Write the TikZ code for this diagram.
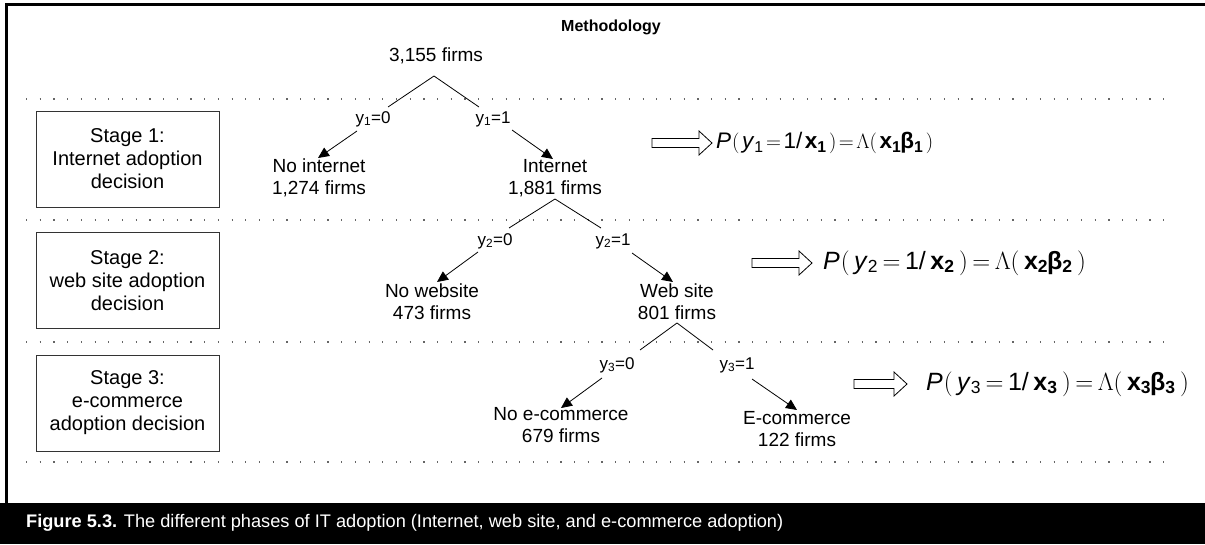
\documentclass[tikz,border=0pt]{standalone}
\usepackage{fontspec}
\setmainfont{Liberation Sans}
\usetikzlibrary{arrows.meta}

% logit probability for stage #1, with #2 as the spacing unit
\newcommand{\stageprob}[2]{\textit{P}\kern1pt$\Bigl($\kern#2\textit{y}\textsubscript{#1}\kern#2$=$\kern#2 1/\kern#2\textbf{x}\textsubscript{\bfseries #1}\kern#2$\Bigr)$\kern#2$=$\kern#2$\Lambda\Bigl($\kern#2\textbf{x}\textsubscript{\bfseries #1}\kern-1pt\textbf{β}\textsubscript{\bfseries #1}\kern#2$\Bigr)$}

\begin{document}
\begin{tikzpicture}[x=1pt,y=-1pt,
  treetext/.style={align=center,inner sep=0pt,font=\fontsize{19}{22}\selectfont},
  branchlabel/.style={inner sep=0pt,font=\fontsize{17}{19}\selectfont},
  stagebox/.style={draw=black!80,line width=0.9pt,minimum width=183pt,minimum height=96pt,
    align=center,inner sep=0pt,font=\fontsize{20}{23}\selectfont},
  sep/.style={line width=1.2pt,black!60,dash pattern=on 1.2pt off 12.5pt},
  branch/.style={line width=0.8pt},
  pick/.style={line width=0.8pt,-{Triangle[length=11pt,width=10pt]}},
  formula/.style={anchor=west,inner sep=0pt},
  hollow/.style={draw=black,line width=0.8pt,fill=white}]
\useasboundingbox (0,0) rectangle (1205,544);

% frame and caption bar
\fill[black] (0,503) rectangle (1205,544);
\draw[line width=3pt] (6.5,503) -- (6.5,4.5) -- (1205,4.5);
\node[anchor=base west,inner sep=0pt,text=white,font=\fontsize{18.2}{21}\selectfont]
  (caption) at (26,527) {\textbf{Figure 5.3.} The different phases of IT adoption (Internet, web site, and e-commerce adoption)};

% title
\node[inner sep=0pt,font=\bfseries\fontsize{16}{19}\selectfont] (title) at (611,27) {Methodology};

% stage separators
\foreach \yy in {99,220,342,462}
  \draw[sep] (26,\yy) -- (1166,\yy);

% stage boxes
\node[stagebox] (s1) at (127.5,159) {Stage 1:\\Internet adoption\\decision};
\node[stagebox] (s2) at (127.5,280.5) {Stage 2:\\web site adoption\\decision};
\node[stagebox] (s3) at (127.5,403) {Stage 3:\\e-commerce\\adoption decision};

% stage 1 tree
\node[treetext] (all) at (436,56) {3,155 firms};
\coordinate (a1) at (434,76);
\coordinate (a1l) at (388,107);
\coordinate (a1r) at (479,107);
\node[branchlabel] (y1n) at (373,119) {y\textsubscript{1}=0};
\node[branchlabel] (y1y) at (493,119) {y\textsubscript{1}=1};
\coordinate (p1l) at (357,131);
\coordinate (p1r) at (512,130);
\coordinate (t1l) at (318,158);
\coordinate (t1r) at (553,159);
\node[treetext] (noint) at (319,178) {No internet\\1,274 firms};
\node[treetext] (int) at (555,178) {Internet\\1,881 firms};
\draw[branch] (a1l) -- (a1) -- (a1r);
\draw[pick] (p1l) -- (t1l);
\draw[pick] (p1r) -- (t1r);

% stage 2 tree
\coordinate (a2) at (555,199);
\coordinate (a2l) at (509,228);
\coordinate (a2r) at (601,228);
\node[branchlabel] (y2n) at (495,241) {y\textsubscript{2}=0};
\node[branchlabel] (y2y) at (613,241) {y\textsubscript{2}=1};
\coordinate (p2l) at (478,252);
\coordinate (p2r) at (632,253);
\coordinate (t2l) at (437,282);
\coordinate (t2r) at (673,282);
\node[treetext] (noweb) at (432,302) {No website\\473 firms};
\node[treetext] (web) at (677,302) {Web site\\801 firms};
\draw[branch] (a2l) -- (a2) -- (a2r);
\draw[pick] (p2l) -- (t2l);
\draw[pick] (p2r) -- (t2r);

% stage 3 tree
\coordinate (a3) at (677,323);
\coordinate (a3l) at (640,350);
\coordinate (a3r) at (713,350);
\node[branchlabel] (y3n) at (617,365) {y\textsubscript{3}=0};
\node[branchlabel] (y3y) at (737,365) {y\textsubscript{3}=1};
\coordinate (p3l) at (602,378);
\coordinate (p3r) at (752,379);
\coordinate (t3l) at (561,408);
\coordinate (t3r) at (797,410);
\node[treetext] (noec) at (561,425) {No e-commerce\\679 firms};
\node[treetext] (ec) at (797,429) {E-commerce\\122 firms};
\draw[branch] (a3l) -- (a3) -- (a3r);
\draw[pick] (p3l) -- (t3l);
\draw[pick] (p3r) -- (t3r);

% hollow arrows and model equations
\draw[hollow] (652,138.5) -- (699,138.5) -- (699,131) -- (712,143) -- (699,155) -- (699,147.5) -- (652,147.5) -- cycle;
\node[formula,font=\fontsize{22.5}{26}\selectfont] (m1) at (716,143) {\stageprob{1}{2.5pt}};
\draw[hollow] (752,258.5) -- (799,258.5) -- (799,251) -- (812,263) -- (799,275) -- (799,267.5) -- (752,267.5) -- cycle;
\node[formula,font=\fontsize{25}{28}\selectfont] (m2) at (823,263) {\stageprob{2}{4.5pt}};
\draw[hollow] (854,379.5) -- (894,379.5) -- (894,372) -- (907,384) -- (894,396) -- (894,388.5) -- (854,388.5) -- cycle;
\node[formula,font=\fontsize{25}{28}\selectfont] (m3) at (926,384) {\stageprob{3}{4.5pt}};
\end{tikzpicture}
\end{document}
